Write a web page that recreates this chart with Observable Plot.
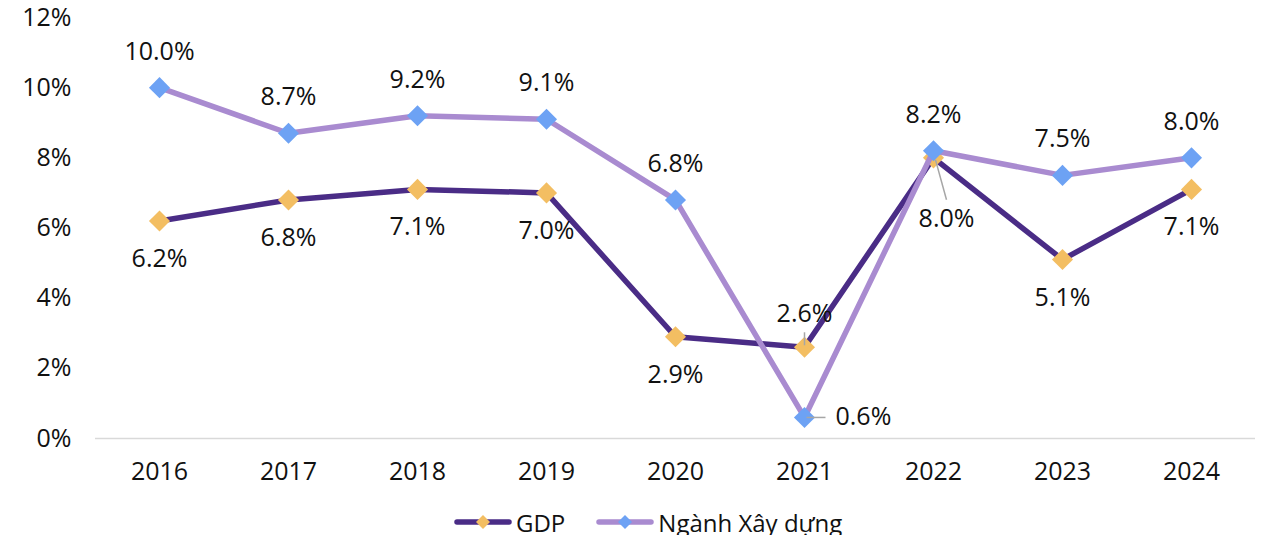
<!DOCTYPE html>
<html><head><meta charset="utf-8">
<script src="https://cdn.jsdelivr.net/npm/d3@7"></script>
<script src="https://cdn.jsdelivr.net/npm/@observablehq/plot@0.6"></script>
<style>
body{margin:0;background:#fff;font-family:"Open Sans",sans-serif;color:#111;}
#chart{width:1261px;}
.legend{display:flex;align-items:center;height:26px;margin-top:19px;padding-left:453px;font-size:24px;}
.item{display:flex;align-items:center;margin-right:30px;}
.item svg{margin-right:3px;}
</style></head><body><div id="chart"></div><script>
const years = [2016, 2017, 2018, 2019, 2020, 2021, 2022, 2023, 2024];
const gdp = [6.2, 6.8, 7.1, 7.0, 2.9, 2.6, 8.0, 5.1, 7.1];
const construction = [10.0, 8.7, 9.2, 9.1, 6.8, 0.6, 8.2, 7.5, 8.0];
const yTicks = [0, 2, 4, 6, 8, 10, 12];
const seriesNames = ["GDP", "Ngành Xây dựng"];

const colors = {
  GDP: {line: "#4A2C86", dot: "#F3BE62"},
  "Ngành Xây dựng": {line: "#A98BD0", dot: "#6DA2F4"}
};

const rows = [];
years.forEach((yr, i) => {
  rows.push({series: seriesNames[0], year: yr, value: gdp[i]});
  rows.push({series: seriesNames[1], year: yr, value: construction[i]});
});
const gdpRows = rows.filter(d => d.series === seriesNames[0]);
const conRows = rows.filter(d => d.series === seriesNames[1]);

// label placement (style), with a few special cases
function place(d) {
  const isGdp = d.series === seriesNames[0];
  let dx = 0, dy = isGdp ? 38 : -36, anchor = "middle";
  if (isGdp && d.year === 2021) dy = -33;
  if (isGdp && d.year === 2022) { dx = 13; dy = 61; }
  if (!isGdp && d.year === 2021) { dx = 31; dy = 0; anchor = "start"; }
  return {...d, dx, dy, anchor, label: d.value.toFixed(1) + "%"};
}
const labels = rows.map(place);

// leader lines (pixel offsets converted to data units)
const xStep = 129, yUnit = 35.1;
const leaders = [
  {x1: 2021, y1: 2.6 + 2 / yUnit, x2: 2021, y2: 2.6 + 15 / yUnit},
  {x1: 2021 + 2 / xStep, y1: 0.6, x2: 2021 + 21 / xStep, y2: 0.6},
  {x1: 2022 + 2 / xStep, y1: 8.0 - 2 / yUnit, x2: 2022 + 13 / xStep, y2: 8.0 - 42 / yUnit}
];

const FS = 25;
const marks = [
  Plot.ruleY([0], {stroke: "#D9D9D9", strokeWidth: 1.5}),
  Plot.axisY({ticks: yTicks, tickFormat: d => d + "%", tickSize: 0, tickPadding: 24, fontSize: FS, label: null}),
  Plot.axisX({ticks: years, tickFormat: d => String(d), tickSize: 0, tickPadding: 24, fontSize: FS, label: null}),
  Plot.line(gdpRows, {x: "year", y: "value", stroke: colors.GDP.line, strokeWidth: 5.5, strokeLinejoin: "round"}),
  Plot.dot(gdpRows, {x: "year", y: "value", symbol: "diamond2", r: 9.5, fill: colors.GDP.dot, stroke: "none"}),
  Plot.line(conRows, {x: "year", y: "value", stroke: colors["Ngành Xây dựng"].line, strokeWidth: 5.5, strokeLinejoin: "round"}),
  Plot.dot(conRows, {x: "year", y: "value", symbol: "diamond2", r: 9.5, fill: colors["Ngành Xây dựng"].dot, stroke: "none"}),
  Plot.link(leaders, {x1: "x1", y1: "y1", x2: "x2", y2: "y2", stroke: "#A6A6A6", strokeWidth: 1.5})
];
for (const lab of labels) {
  marks.push(Plot.text([lab], {x: "year", y: "value", text: "label", dx: lab.dx, dy: lab.dy, textAnchor: lab.anchor, fontSize: FS, fill: "#111"}));
}

const chart = Plot.plot({
  width: 1261,
  height: 490,
  marginLeft: 95,
  marginRight: 6,
  marginTop: 17,
  marginBottom: 52,
  style: {fontFamily: "'Open Sans', sans-serif", background: "#fff", color: "#111"},
  x: {type: "linear", domain: [2016, 2024], insetLeft: 64, insetRight: 64},
  y: {domain: [0, 12]},
  marks
});
document.getElementById("chart").appendChild(chart);

// legend
const legend = document.createElement("div");
legend.className = "legend";
for (const name of seriesNames) {
  const item = document.createElement("div");
  item.className = "item";
  const c = colors[name];
  item.innerHTML = `<svg width="60" height="20"><line x1="4" y1="10" x2="56" y2="10" stroke="${c.line}" stroke-width="5.5" stroke-linecap="round"/><polygon points="30,3 37,10 30,17 23,10" fill="${c.dot}"/></svg><span>${name}</span>`;
  legend.appendChild(item);
}
document.getElementById("chart").appendChild(legend);
</script></body></html>
